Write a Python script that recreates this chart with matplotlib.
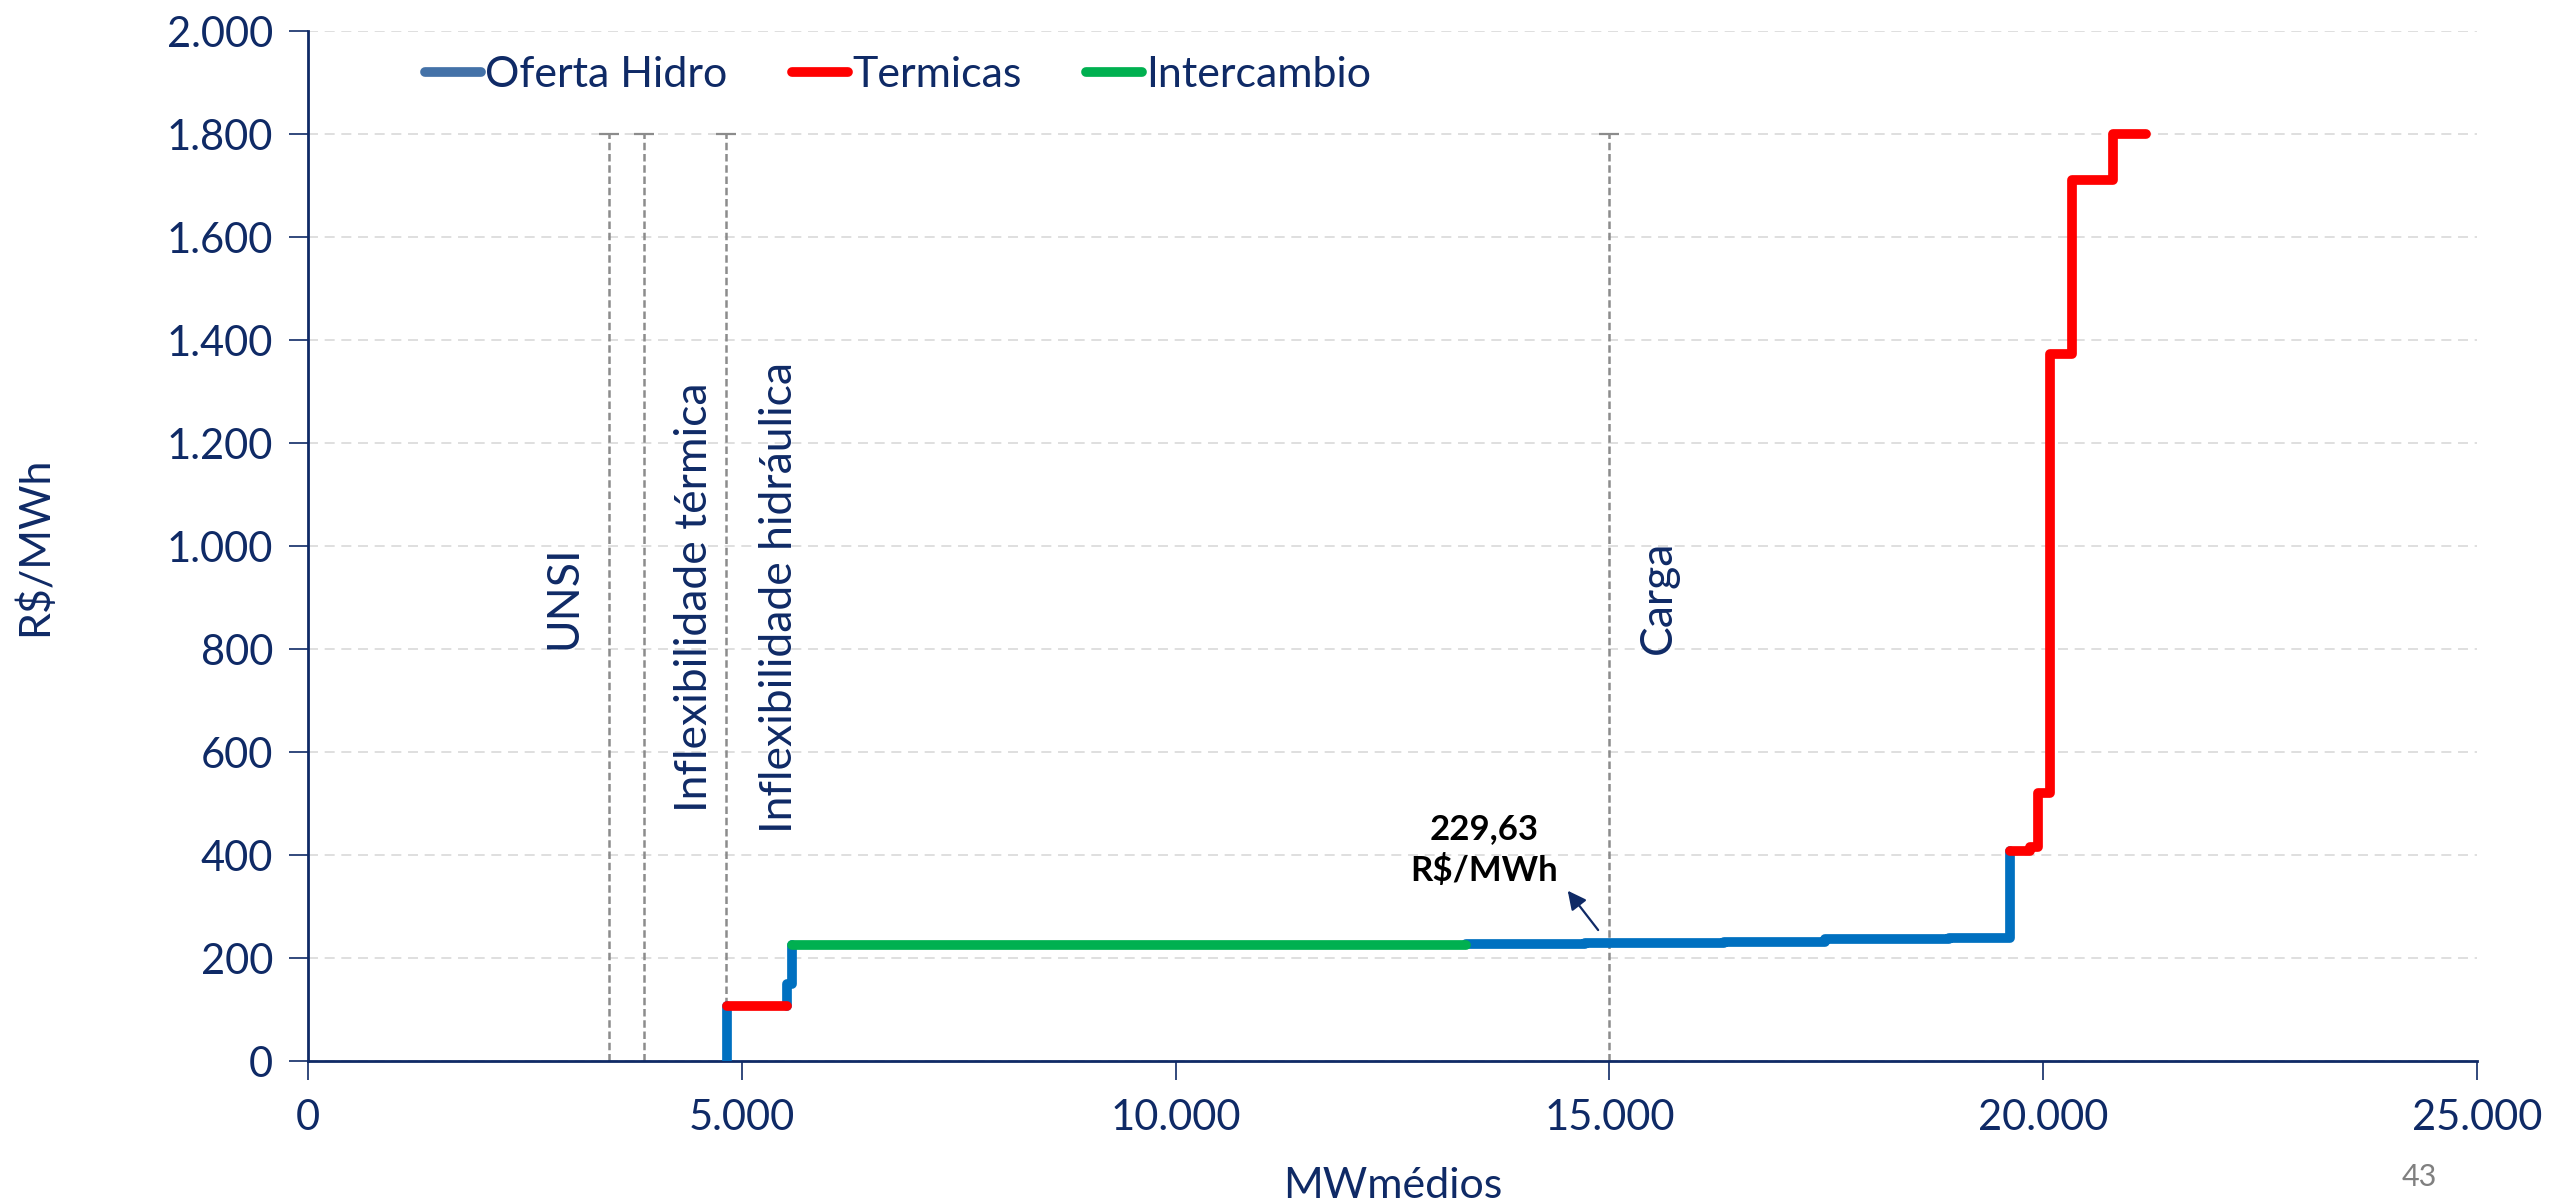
import matplotlib
matplotlib.use("Agg")
import matplotlib.pyplot as plt
from matplotlib.ticker import FuncFormatter

# --- data -------------------------------------------------------------
# Oferta Hidro (hydro supply) pieces: step breakpoints (MWmédios) and prices (R$/MWh)
hidro_a_x = [4825, 4825]
hidro_a_y = [0, 107]
hidro_b_x = [5525, 5525, 5575, 5575]
hidro_b_y = [107, 150, 150, 226]
hidro_c_x = [13350, 14720, 16320, 17490, 18920, 19620, 19620]
hidro_c_y = [226.5, 229.63, 231, 236, 239, 239, 407]

# Termicas (thermal) pieces
term_a_x = [4825, 5525]
term_a_y = [107, 107]
term_b_x = [19620, 19850, 19945, 20080, 20335, 20810, 21180]
term_b_y = [407, 415, 520, 1372, 1711, 1800, 1800]

# Intercambio (interchange)
inter_x = [5575, 13350]
inter_y = [226, 226]

# Reference vertical markers
ref_x = [3470, 3870, 4820, 15000]
ref_top = 1800
ref_labels = ["UNSI", "Inflexibilidade térmica", "Inflexibilidade hidráulica", "Carga"]
ref_label_x = [2950, 4450, 5440, 15570]

cmo_value = 229.63
cmo_load = 15000

x_ticks = [0, 5000, 10000, 15000, 20000, 25000]
y_ticks = list(range(0, 2001, 200))

# --- style ------------------------------------------------------------
NAVY = "#0F2A66"
BLUE = "#0070C0"
RED = "#FF0000"
GREEN = "#00B050"
plt.rcParams["font.family"] = ["Lato", "DejaVu Sans"]

fig = plt.figure(figsize=(25.52, 12.02), dpi=100)
ax = fig.add_axes([0.1207, 0.1173, 0.8499, 0.8569])

# horizontal dashed grid
ax.set_axisbelow(True)
ax.yaxis.grid(True, color="#D9D9D9", linestyle=(0, (6, 4)), linewidth=1.2)
ax.xaxis.grid(False)

# vertical reference lines with caps at the top
for xv in ref_x:
    ax.vlines(xv, 0, ref_top, colors="#8C8C8C", linestyles=(0, (3, 1.5)), linewidth=1.8, zorder=2)
    ax.plot([xv], [ref_top], marker="_", markersize=14, markeredgewidth=1.6,
            color="#8C8C8C", zorder=2)
for lx, lab in zip(ref_label_x, ref_labels):
    ax.text(lx, 900, lab, rotation=90, ha="center", va="center",
            fontsize=32, color=NAVY)

# supply curve pieces
lw = 7
kw = dict(linewidth=lw, solid_capstyle="round", solid_joinstyle="round")
ax.plot(hidro_a_x, hidro_a_y, color=BLUE, zorder=3, **kw)
ax.plot(hidro_b_x, hidro_b_y, color=BLUE, zorder=3, **kw)
ax.step(hidro_c_x, hidro_c_y, where="post", color=BLUE, zorder=3, **kw)
ax.plot(inter_x, inter_y, color=GREEN, zorder=4, **kw)
ax.plot(term_a_x, term_a_y, color=RED, zorder=5, **kw)
ax.step(term_b_x, term_b_y, where="post", color=RED, zorder=5, **kw)

# price annotation at the load point
ax.annotate(f"{cmo_value:.2f}".replace(".", ",") + "\nR$/MWh",
            xy=(14500, 335), xytext=(13560, 410),
            ha="center", va="center", fontsize=25, fontweight="bold",
            color="black", linespacing=1.35)
ax.annotate("", xy=(14500, 335), xytext=(cmo_load - 110, 250),
            arrowprops=dict(arrowstyle="-|>", color=NAVY, lw=1.6,
                            mutation_scale=28))

# legend
leg_handles = [
    plt.Line2D([], [], color="#4472A8", linewidth=7, solid_capstyle="round"),
    plt.Line2D([], [], color=RED, linewidth=7, solid_capstyle="round"),
    plt.Line2D([], [], color=GREEN, linewidth=7, solid_capstyle="round"),
]
leg = ax.legend(leg_handles, ["Oferta Hidro", "Termicas", "Intercambio"],
                loc="upper left", bbox_to_anchor=(0.036, 1.013), ncol=3,
                frameon=False, fontsize=31, handlelength=1.3,
                handletextpad=0.1, columnspacing=1.5, labelcolor=NAVY)

# axes
ax.set_xlim(0, 25000)
ax.set_ylim(0, 2000)
ax.set_xticks(x_ticks)
ax.set_yticks(y_ticks)
thousands = FuncFormatter(lambda v, p: f"{int(v):,}".replace(",", "."))
ax.xaxis.set_major_formatter(thousands)
ax.yaxis.set_major_formatter(thousands)
ax.tick_params(axis="both", colors=NAVY, labelsize=30, length=14, width=1.2,
               direction="out")
ax.tick_params(axis="x", pad=13)
ax.tick_params(axis="y", pad=11)
for s in ("top", "right"):
    ax.spines[s].set_visible(False)
for s in ("left", "bottom"):
    ax.spines[s].set_color(NAVY)
    ax.spines[s].set_linewidth(2)

ax.set_xlabel("MWmédios", fontsize=31, color=NAVY, labelpad=22)
ax.set_ylabel("R$/MWh", fontsize=31, color=NAVY, labelpad=0)
ax.yaxis.set_label_coords(-0.117, 0.5)

fig.text(0.948, 0.021, "43", fontsize=22, color="#808080", ha="center", va="center")

fig.savefig("out.png", dpi=100)
